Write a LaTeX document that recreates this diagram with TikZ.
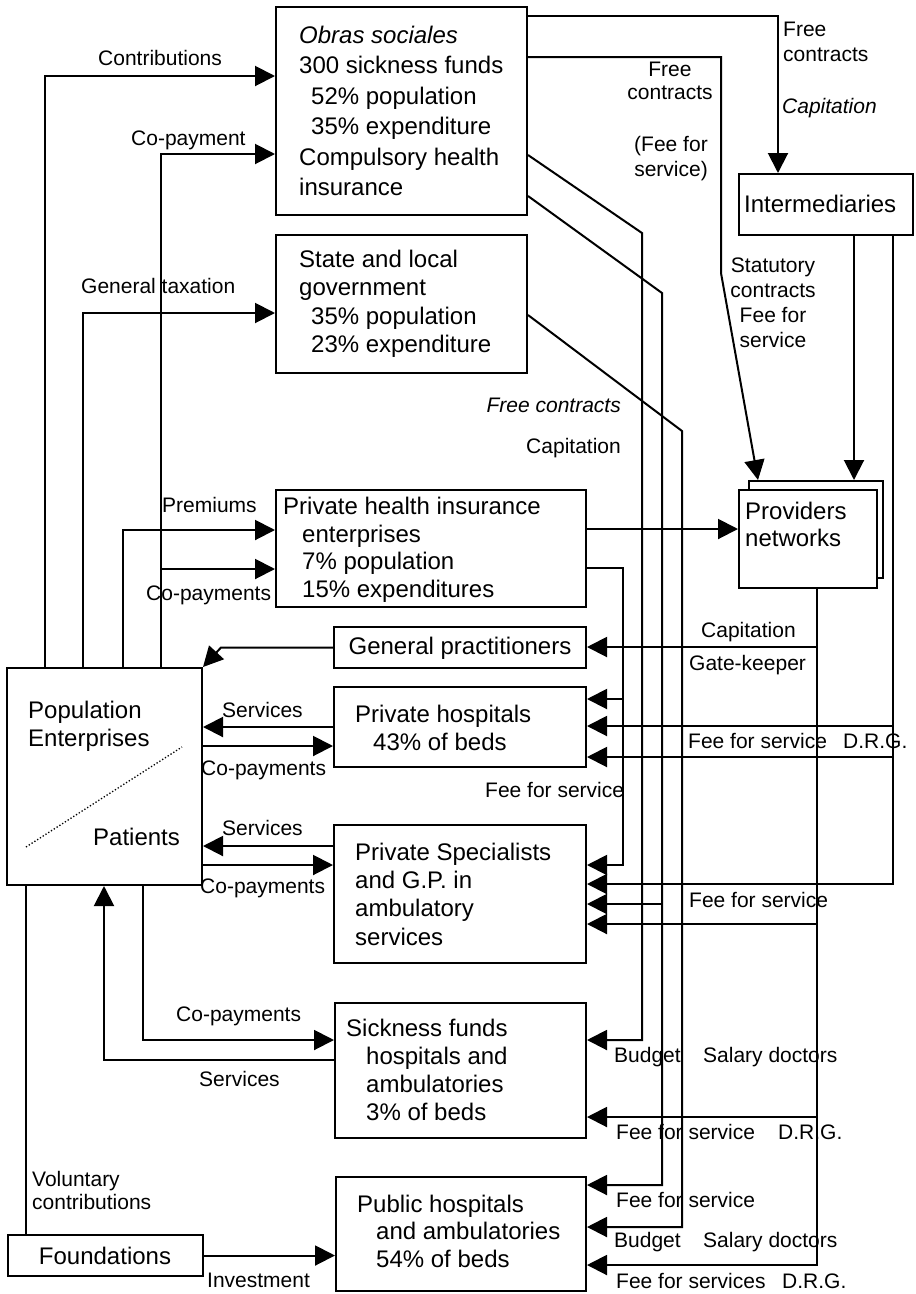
\documentclass[tikz,border=0pt]{standalone}
\usepackage{fontspec}
\setmainfont{Liberation Sans}
\usetikzlibrary{arrows.meta}
\begin{document}
\begin{tikzpicture}[x=1pt,y=-1pt,
  box/.style={draw, line width=2pt, fill=white, inner sep=0pt},
  btxt/.style={inner sep=0pt, anchor=west, align=left, font=\fontsize{24}{28}\selectfont},
  lbl/.style={inner sep=0pt, anchor=base west, font=\fontsize{21}{24}\selectfont},
  mlbl/.style={inner sep=0pt, align=center, font=\fontsize{21}{25}\selectfont},
  conn/.style={line width=2pt, line join=miter},
  arr/.style={conn, -{Triangle[length=20pt,width=20pt]}}]
\useasboundingbox (0,0) rectangle (916,1294);

% ---------- boxes ----------
\node[box, minimum width=251pt, minimum height=208pt] (obras) at (401.5,111) {};
\node[box, minimum width=251pt, minimum height=138pt] (state) at (401.5,304) {};
\node[box, minimum width=174pt, minimum height=61pt] (inter) at (826,204.5) {};
\node[box, minimum width=134pt, minimum height=97pt] (provb) at (816,529.5) {};
\node[box, minimum width=138pt, minimum height=98pt] (prov) at (808,539) {};
\node[box, minimum width=310pt, minimum height=117pt] (phi) at (431,548.5) {};
\node[box, minimum width=252pt, minimum height=41pt] (gp) at (460,647.5) {};
\node[box, minimum width=252pt, minimum height=80pt] (ph) at (460,727) {};
\node[box, minimum width=252pt, minimum height=138pt] (ps) at (460,894) {};
\node[box, minimum width=251pt, minimum height=135pt] (sf) at (460.5,1070.5) {};
\node[box, minimum width=250pt, minimum height=114pt] (pub) at (461,1234) {};
\node[box, minimum width=195pt, minimum height=217pt] (pop) at (104.5,776.5) {};
\node[box, minimum width=195pt, minimum height=41pt] (found) at (105.5,1255.5) {};

% ---------- box texts ----------
\node[btxt, font=\fontsize{24}{30.5}\selectfont] (tobras) at (299,111)
  {\textit{Obras sociales}\\300 sickness funds\\\hspace*{12pt}52\% population\\\hspace*{12pt}35\% expenditure\\Compulsory health\\insurance};
\node[btxt, font=\fontsize{24}{28.5}\selectfont] (tstate) at (299,304)
  {State and local\\government\\\hspace*{12pt}35\% population\\\hspace*{12pt}23\% expenditure};
\node[btxt] (tinter) at (744,204) {Intermediaries};
\node[btxt, font=\fontsize{24}{27}\selectfont] (tprov) at (745,524) {Providers\\networks};
\node[btxt, font=\fontsize{24}{27.5}\selectfont] (tphi) at (283,550)
  {Private health insurance\\\hspace*{19pt}enterprises\\\hspace*{19pt}7\% population\\\hspace*{19pt}15\% expenditures};
\node[btxt, anchor=center] (tgp) at (460,648) {General practitioners};
\node[btxt, font=\fontsize{24}{27.5}\selectfont] (tph) at (355,728) {Private hospitals\\\hspace*{18pt}43\% of beds};
\node[btxt, font=\fontsize{24}{28.3}\selectfont] (tps) at (355,894) {Private Specialists\\and G.P. in\\ambulatory\\services};
\node[btxt] (tsf) at (346,1070) {Sickness funds\\\hspace*{20pt}hospitals and\\\hspace*{20pt}ambulatories\\\hspace*{20pt}3\% of beds};
\node[btxt, font=\fontsize{24}{27.5}\selectfont] (tpub) at (357,1231) {Public hospitals\\\hspace*{19pt}and ambulatories\\\hspace*{19pt}54\% of beds};
\node[btxt] (tpop) at (28,726) {Population\\Enterprises};
\node[btxt] (tpat) at (93,837) {Patients};
\node[btxt, anchor=center] (tfound) at (105,1256) {Foundations};
\draw[dotted, line width=1.3pt] (26,847) -- (182,747);

% ---------- left side connectors ----------
\draw[arr] (pop.north -| 45,0) |- (obras.west |- 0,76);
\draw[arr] (pop.north -| 83,0) |- (state.west |- 0,313);
\draw[arr] (pop.north -| 123,0) |- (phi.west |- 0,530);
\draw[arr] (pop.north -| 161,0) |- (obras.west |- 0,154);
\coordinate (cpb) at (161,569);
\draw[arr] (cpb) -- (phi.west |- 0,569);
\draw[arr] (gp.west) -- (gp.west -| 221,0) -- (pop.north east);
\draw[arr] (ph.west |- 0,727) -- (pop.east |- 0,727);
\draw[arr] (pop.east |- 0,746) -- (ph.west |- 0,746);
\draw[arr] (ps.west |- 0,846) -- (pop.east |- 0,846);
\draw[arr] (pop.east |- 0,865) -- (ps.west |- 0,865);
\draw[arr] (pop.south -| 143,0) |- (sf.west |- 0,1040);
\draw[arr] (sf.west |- 0,1060) -| (pop.south -| 104,0);
\draw[conn] (found.north -| 26,0) -- (pop.south -| 26,0);
\draw[arr] (found.east) -- (pub.west |- found.east);

% ---------- top right connectors ----------
\draw[arr] (obras.east |- 0,16) -| (inter.north -| 778,0);
\draw[arr] (obras.east |- 0,57) -- (721,57) -- (721,273) -- (provb.north -| 758,0);
\draw[arr] (inter.south -| 854,0) -- (provb.north -| 854,0);
\draw[arr] (inter.south -| 893,0) |- (ps.east |- 0,884);
\coordinate (i1) at (893,726);
\coordinate (i2) at (893,757);
\draw[arr] (i1) -- (ph.east |- i1);
\draw[arr] (i2) -- (ph.east |- i2);
\draw[arr] (phi.east |- 0,529) -- (prov.west |- 0,529);
\draw[arr] (phi.east |- 0,568) -- (623,568) -- (623,865) -- (ps.east |- 0,865);
\coordinate (h1) at (623,699);
\draw[arr] (h1) -- (ph.east |- h1);
\draw[arr] (obras.east |- 0,155) -- (642,233) -- (642,1040) -- (sf.east |- 0,1040);
\draw[arr] (obras.east |- 0,196) -- (662,293) -- (662,1185) -- (pub.east |- 0,1185);
\coordinate (o2) at (662,904);
\draw[arr] (o2) -- (ps.east |- o2);
\draw[arr] (state.east |- 0,315) -- (682,431) -- (682,1227) -- (pub.east |- 0,1227);
\draw[arr] (prov.south -| 817,0) -- (817,1265) -- (pub.east |- 0,1265);
\coordinate (p1) at (817,647);
\coordinate (p2) at (817,924);
\coordinate (p3) at (817,1117);
\draw[arr] (p1) -- (gp.east |- p1);
\draw[arr] (p2) -- (ps.east |- p2);
\draw[arr] (p3) -- (sf.east |- p3);

% ---------- labels ----------
\node[lbl] (l1) at (98,65.5) {Contributions};
\node[lbl] (l2) at (131,145) {Co-payment};
\node[lbl] (l3) at (81,293) {General taxation};
\node[lbl] (l4) at (162,512) {Premiums};
\node[lbl] (l5) at (146,600) {Co-payments};
\node[lbl] (l6) at (222,717) {Services};
\node[lbl] (l7) at (201,775) {Co-payments};
\node[lbl] (l8) at (222,835) {Services};
\node[lbl] (l9) at (200,893) {Co-payments};
\node[lbl] (l10) at (176,1021) {Co-payments};
\node[lbl] (l11) at (199,1086) {Services};
\node[mlbl, anchor=north west, align=left, font=\fontsize{21}{23}\selectfont] (l12) at (32,1171.5) {Voluntary\\contributions};
\node[lbl] (l13) at (207,1287) {Investment};
\node[mlbl, anchor=north west, align=left] (l14) at (783,21.5) {Free\\contracts};
\node[lbl] (l15) at (782,113) {\itshape Capitation};
\node[mlbl, anchor=north, font=\fontsize{21}{23}\selectfont] (l16) at (670,61.5) {Free\\contracts};
\node[mlbl, anchor=north] (l17) at (671,136.5) {(Fee for\\service)};
\node[mlbl, anchor=north] (l18) at (773,257.5) {Statutory\\contracts\\Fee for\\service};
\node[lbl, anchor=base east] (l19) at (621,412) {\itshape Free contracts};
\node[lbl, anchor=base east] (l20) at (621,453) {Capitation};
\node[lbl] (l21) at (701,637) {Capitation};
\node[lbl] (l22) at (689,670) {Gate-keeper};
\node[lbl] (l23) at (688,748) {Fee for service};
\node[lbl] (l24) at (843,748) {D.R.G.};
\node[lbl] (l25) at (485,797) {Fee for service};
\node[lbl] (l26) at (689,907) {Fee for service};
\node[lbl] (l27) at (614,1062) {Budget};
\node[lbl] (l28) at (703,1062) {Salary doctors};
\node[lbl] (l29) at (616,1139) {Fee for service};
\node[lbl] (l30) at (778,1139) {D.R.G.};
\node[lbl] (l31) at (616,1207) {Fee for service};
\node[lbl] (l32) at (614,1247) {Budget};
\node[lbl] (l33) at (703,1247) {Salary doctors};
\node[lbl] (l34) at (616,1288) {Fee for services};
\node[lbl] (l35) at (782,1288) {D.R.G.};
\end{tikzpicture}
\end{document}
